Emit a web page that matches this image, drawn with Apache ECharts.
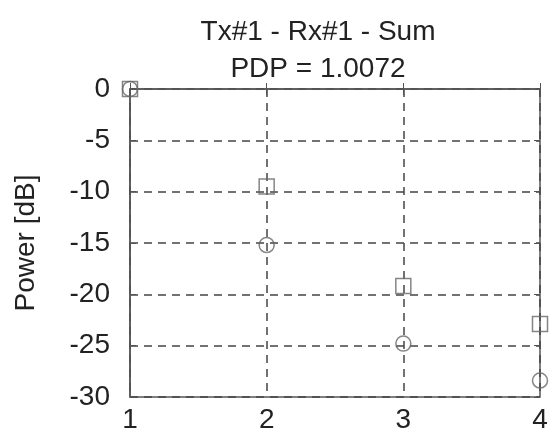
<!DOCTYPE html>
<html>
<head>
<meta charset="utf-8">
<script src="https://cdn.jsdelivr.net/npm/echarts@6/dist/echarts.min.js"></script>
<style>
  html, body { margin: 0; padding: 0; background: #fff; }
  #chart { width: 555px; height: 444px; }
</style>
</head>
<body>
<div id="chart"></div>
<script>
// data
const delays = [1, 2, 3, 4];
const squarePower = [0, -9.5, -19.2, -22.9];
const circlePower = [0, -15.2, -24.8, -28.4];
const yTicks = [0, -5, -10, -15, -20, -25, -30];

const chart = echarts.init(document.getElementById('chart'));
const font = 'Liberation Sans, Arial, sans-serif';
const lineCol = '#555';

function pts(vals) {
  return delays.map((d, i) => [d, vals[i]]);
}

chart.setOption({
  animation: false,
  title: {
    text: 'Tx#1 - Rx#1 - Sum\nPDP = 1.0072',
    left: 313,
    top: 9,
    textAlign: 'center',
    textStyle: { fontFamily: font, fontWeight: 'normal', fontSize: 28, color: '#222', lineHeight: 37 }
  },
  grid: { left: 130, right: 15, top: 89, bottom: 47, show: true, borderColor: lineCol, borderWidth: 1.5, backgroundColor: '#fff' },
  xAxis: [{
    type: 'value', min: 1, max: 4, interval: 1,
    axisLine: { show: true, lineStyle: { color: lineCol, width: 1.5 } },
    axisTick: { inside: true, length: 6, lineStyle: { color: lineCol } },
    axisLabel: { fontFamily: font, fontSize: 28, color: '#222', margin: 9 },
    splitLine: { show: true, lineStyle: { type: [8, 6], color: '#444', width: 1.5 } }
  }, {
    type: 'value', min: 1, max: 4, interval: 1, position: 'top',
    axisLine: { show: false },
    axisTick: { inside: true, length: 6, lineStyle: { color: lineCol } },
    axisLabel: { show: false }, splitLine: { show: false }
  }],
  yAxis: [{
    type: 'value', min: -30, max: 0, interval: 5,
    name: 'Power [dB]', nameLocation: 'middle', nameGap: 90,
    nameTextStyle: { fontFamily: font, fontSize: 28, color: '#222' },
    axisLine: { show: true, lineStyle: { color: lineCol, width: 1.5 } },
    axisTick: { inside: true, length: 6, lineStyle: { color: lineCol } },
    axisLabel: { fontFamily: font, fontSize: 28, color: '#222', margin: 20,
      formatter: v => yTicks.includes(v) ? String(v) : '' },
    splitLine: { show: true, lineStyle: { type: [8, 6], color: '#444', width: 1.5 } }
  }, {
    type: 'value', min: -30, max: 0, interval: 5, position: 'right',
    axisLine: { show: false },
    axisTick: { inside: true, length: 6, lineStyle: { color: lineCol } },
    axisLabel: { show: false }, splitLine: { show: false }
  }],
  series: [{
    type: 'scatter', symbol: 'circle', symbolSize: 15,
    itemStyle: { color: 'rgba(0,0,0,0)', borderColor: '#666', borderWidth: 1.5 },
    data: pts(circlePower), z: 3
  }, {
    type: 'scatter', symbol: 'rect', symbolSize: 15,
    itemStyle: { color: 'rgba(0,0,0,0)', borderColor: '#666', borderWidth: 1.5 },
    data: pts(squarePower), z: 4
  }]
});
</script>
</body>
</html>
